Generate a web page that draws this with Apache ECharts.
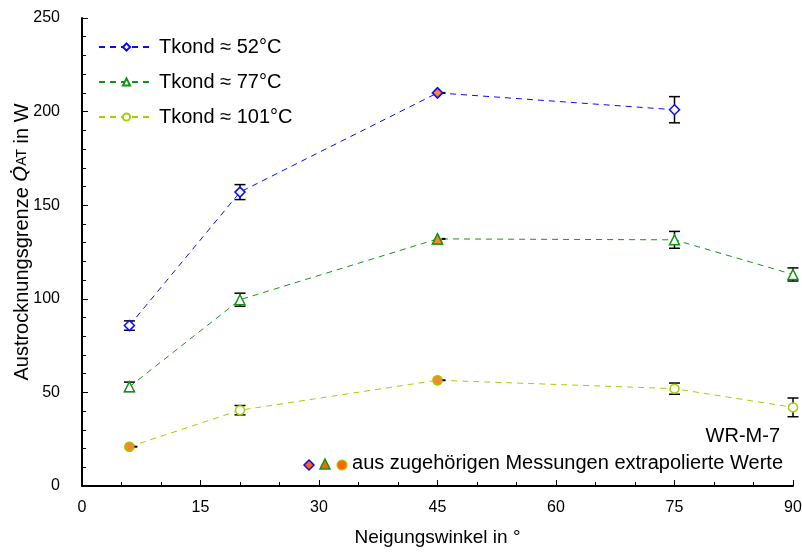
<!DOCTYPE html>
<html><head><meta charset="utf-8">
<script src="https://cdn.jsdelivr.net/npm/echarts@6/dist/echarts.min.js"></script>
<style>html,body{margin:0;padding:0;background:#fff}#c{width:802px;height:552px}</style>
</head><body><div id="c"></div>
<script>
const xVals = [6, 20, 45, 75, 90];
const names = ['Tkond ≈ 52°C', 'Tkond ≈ 77°C', 'Tkond ≈ 101°C'];
const y52  = [85.7, 157, 210, 201, null];
const y77  = [53, 99.5, 132, 131.5, 113];
const y101 = [21, 40.5, 56.5, 52, 42];
const e52  = [2.5, 4, 0, 7, null];
const e77  = [2.5, 3.5, 0, 4.5, 3.5];
const e101 = [0, 2.5, 0, 3, 5];
// extrapolated points (index in xVals)
const extra52 = [2];
const extra77 = [2];
const extra101 = [0, 2];
const xTicks = [0, 15, 30, 45, 60, 75, 90];
const yTicks = [0, 50, 100, 150, 200, 250];

const FONT = 'Liberation Sans, Arial, sans-serif';
const colors = ['#0a0aff', '#129612', '#a3d000'];
const orange = '#ff6600';
const symbols = ['diamond', 'triangle', 'circle'];
const symSizes = [10, 10, 9];
const ys = [y52, y77, y101];
const es = [e52, e77, e101];
const extras = [extra52, extra77, extra101];

const chart = echarts.init(document.getElementById('c'));
const series = [];
ys.forEach((yy, k) => {
  const pts = [];
  yy.forEach((v, i) => { if (v != null) pts.push([xVals[i], v]); });
  series.push({
    name: names[k], type: 'line', data: pts, z: 3,
    symbol: symbols[k], symbolSize: symSizes[k], showSymbol: true,
    lineStyle: { color: colors[k], width: 1, type: [6, 5] },
    itemStyle: { color: '#fff', borderColor: colors[k], borderWidth: 1.5 },
    emphasis: { disabled: true }, animation: false
  });
  const err = [];
  yy.forEach((v, i) => { if (v != null && es[k][i] > 0) err.push([xVals[i], v - es[k][i], v + es[k][i]]); });
  series.push({
    type: 'custom', data: err, z: 2, animation: false, silent: true,
    renderItem: function (params, api) {
      const x = api.value(0);
      const lo = api.coord([x, api.value(1)]);
      const hi = api.coord([x, api.value(2)]);
      const w = 5.5;
      const st = { stroke: '#000', lineWidth: 1.5 };
      return { type: 'group', children: [
        { type: 'line', shape: { x1: lo[0], y1: lo[1], x2: hi[0], y2: hi[1] }, style: st },
        { type: 'line', shape: { x1: lo[0] - w, y1: lo[1], x2: lo[0] + w, y2: lo[1] }, style: st },
        { type: 'line', shape: { x1: hi[0] - w, y1: hi[1], x2: hi[0] + w, y2: hi[1] }, style: st }
      ]};
    }
  });
  const ex = extras[k].map(i => [xVals[i], yy[i]]);
  series.push({
    type: 'custom', data: ex, z: 4, animation: false, silent: true,
    renderItem: function (params, api) {
      const p = api.coord([api.value(0), api.value(1)]);
      return { type: 'line', shape: { x1: p[0] + 4, y1: p[1], x2: p[0] + 8, y2: p[1] }, style: { stroke: '#000', lineWidth: 2 } };
    }
  });
  series.push({
    type: 'scatter', z: 5, animation: false, silent: true,
    data: ex, symbol: symbols[k], symbolSize: symSizes[k],
    itemStyle: { color: orange, borderColor: colors[k], borderWidth: 1.5 }
  });
});

const ax = { lineStyle: { color: '#000', width: 2 } };
chart.setOption({
  animation: false,
  grid: { left: 82, right: 9, top: 18, bottom: 66, containLabel: false, outerBoundsMode: 'none' },
  legend: {
    data: names, orient: 'vertical', left: 93, top: 32, itemGap: 15,
    itemWidth: 55, itemHeight: 9, selectedMode: false,
    textStyle: { fontFamily: FONT, fontSize: 20, color: '#000' }
  },
  xAxis: {
    type: 'value', min: 0, max: 90, interval: 15,
    name: 'Neigungswinkel in °', nameLocation: 'middle', nameGap: 42, nameMoveOverlap: false,
    nameTextStyle: { fontFamily: FONT, fontSize: 19, color: '#000' },
    axisLine: ax, axisTick: { inside: true, length: 6, lineStyle: { color: '#000', width: 1 } },
    minorTick: { show: true, splitNumber: 3, length: 4, lineStyle: { color: '#000' } },
    axisLabel: { margin: 14, fontFamily: FONT, fontSize: 16, color: '#000',
      formatter: v => xTicks.includes(v) ? String(v) : '' },
    splitLine: { show: false }
  },
  yAxis: {
    type: 'value', min: 0, max: 250, interval: 50,
    name: 'Austrocknungsgrenze {q|Q̇}{s|AT} in W', nameLocation: 'middle', nameGap: 50, nameMoveOverlap: false,
    nameTextStyle: { fontFamily: FONT, fontSize: 20, color: '#000', padding: [0, 0, 0, 20],
      rich: { q: { fontStyle: 'italic', fontSize: 20, fontFamily: 'DejaVu Sans, sans-serif' },
              s: { fontSize: 14, fontFamily: FONT } } },
    axisLine: { show: true, lineStyle: { color: '#000', width: 2 } },
    axisTick: { show: true, inside: true, length: 6, lineStyle: { color: '#000', width: 1 } },
    minorTick: { show: true, splitNumber: 5, length: 4, lineStyle: { color: '#000' } },
    axisLabel: { margin: 22, fontFamily: FONT, fontSize: 16, color: '#000',
      formatter: v => yTicks.includes(v) ? String(v) : '' },
    splitLine: { show: false }
  },
  graphic: [
    { type: 'text', right: 22, top: 426, style: { text: 'WR-M-7', fontFamily: FONT, fontSize: 20, fill: '#000' } },
    { type: 'text', right: 19, top: 453, style: { text: 'aus zugehörigen Messungen extrapolierte Werte', fontFamily: FONT, fontSize: 20, fill: '#000' } },
    { type: 'polygon', shape: { points: [[309, 460], [314, 465], [309, 470], [304, 465]] }, style: { fill: orange, stroke: colors[0], lineWidth: 1.5 } },
    { type: 'polygon', shape: { points: [[325, 459], [330, 469], [320, 469]] }, style: { fill: orange, stroke: colors[1], lineWidth: 1.5 } },
    { type: 'circle', shape: { cx: 342, cy: 465, r: 5 }, style: { fill: orange, stroke: colors[2], lineWidth: 1.2 } }
  ],
  series: series
});
</script></body></html>
